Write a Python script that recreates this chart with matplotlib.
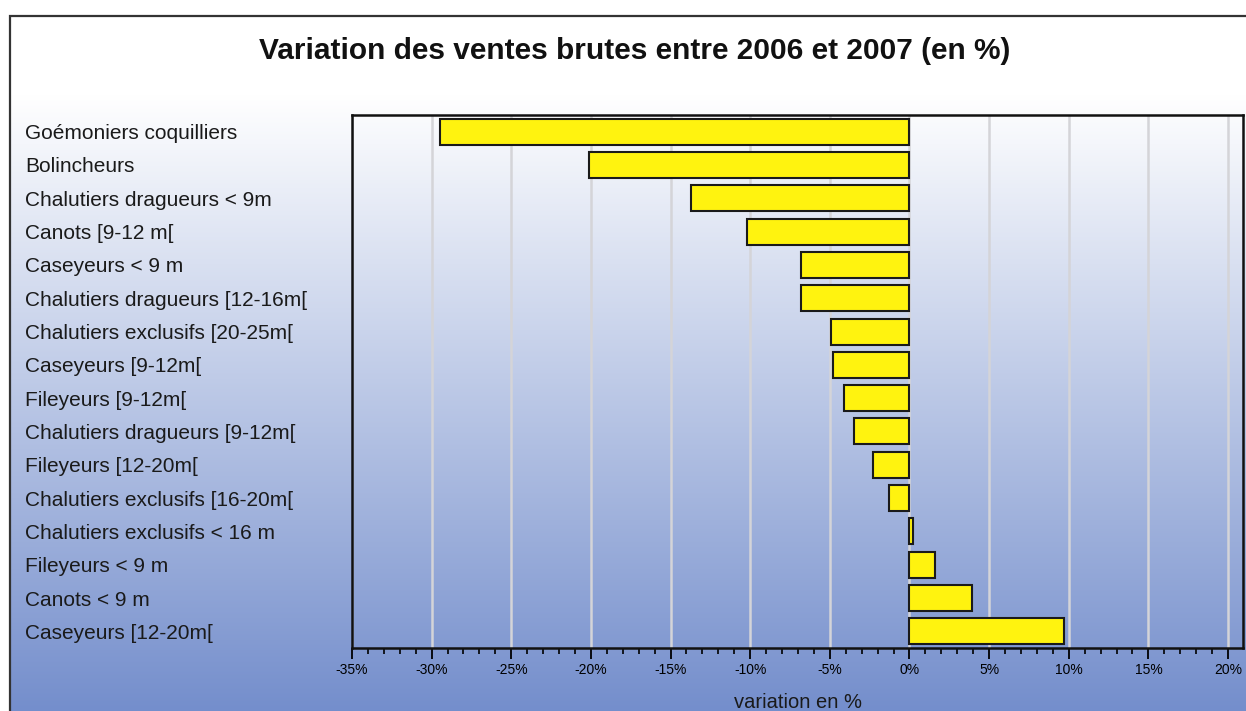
import numpy as np
import matplotlib.pyplot as plt
from matplotlib.patches import Rectangle
from matplotlib.ticker import MultipleLocator, FuncFormatter

plt.rcParams['font.family'] = ['Liberation Sans', 'DejaVu Sans']

# data, top to bottom as in the chart
categories = [
    'Goémoniers coquilliers', 'Bolincheurs', 'Chalutiers dragueurs < 9m',
    'Canots [9-12 m[', 'Caseyeurs < 9 m', 'Chalutiers dragueurs [12-16m[',
    'Chalutiers exclusifs [20-25m[', 'Caseyeurs [9-12m[', 'Fileyeurs [9-12m[',
    'Chalutiers dragueurs [9-12m[', 'Fileyeurs [12-20m[',
    'Chalutiers exclusifs [16-20m[', 'Chalutiers exclusifs < 16 m',
    'Fileyeurs < 9 m', 'Canots < 9 m', 'Caseyeurs [12-20m[',
]
variation = [-29.5, -20.1, -13.7, -10.2, -6.8, -6.8, -4.9, -4.8, -4.1,
             -3.5, -2.3, -1.3, 0.25, 1.6, 3.9, 9.7]

W, H = 1246, 711
fig = plt.figure(figsize=(W / 100, H / 100), dpi=100)
fig.patch.set_facecolor('white')

# background: white at the top of the frame, then a gradient down to blue
bg = fig.add_axes([0, 0, 1, 1], zorder=-10)
bg.axis('off')
top = np.array([255, 255, 255]) / 255
bottom = np.array([116, 142, 204]) / 255
t = np.clip((np.linspace(16, 711, 500) - 95) / (711 - 95), 0, 1)[:, None]
grad = top + (bottom - top) * t
grad = np.repeat(grad[:, None, :], 2, axis=1)
x0 = 10 / W
y_top = 1 - 16 / H
bg.imshow(grad, extent=[x0, 1.2, 0, y_top], aspect='auto', origin='upper')
bg.set_xlim(0, 1)
bg.set_ylim(0, 1)
bg.add_patch(Rectangle((x0, -0.1), 1.5, y_top + 0.1, facecolor='none',
                       edgecolor='#333333', linewidth=1.6))

ax = fig.add_axes([352 / W, 1 - 648 / H, (1243 - 352) / W, (648 - 115) / H])
ax.patch.set_alpha(0)

y = np.arange(len(categories))
ax.barh(y, variation, height=0.78, color='#fff30f', edgecolor='#1a1a1a',
        linewidth=1.5, zorder=3)

ax.set_ylim(len(categories) - 0.5, -0.5)
ax.set_xlim(-35, 20.94)
ax.xaxis.set_major_locator(MultipleLocator(5))
ax.xaxis.set_minor_locator(MultipleLocator(1))
ax.xaxis.set_major_formatter(FuncFormatter(lambda v, p: f'{v:.0f}%'))
ax.grid(axis='x', which='major', color='#d4d4d8', linewidth=1.8, zorder=0)
ax.set_axisbelow(True)

ax.tick_params(axis='x', which='major', length=8, width=1.3, direction='out',
               labelsize=10, pad=3)
ax.tick_params(axis='x', which='minor', length=4.5, width=1.2, direction='out')
ax.set_yticks(y)
ax.set_yticklabels(categories, fontsize=15, color='#1a1a1a')
ax.tick_params(axis='y', length=0, pad=(352 - 25) * 0.72)
for lab in ax.get_yticklabels():
    lab.set_horizontalalignment('left')

for s in ax.spines.values():
    s.set_linewidth(1.8)
    s.set_color('#111111')

ax.set_xlabel('variation en %', fontsize=14.5, color='#1a1a1a', labelpad=11)
fig.text(635 / W, 1 - 51 / H, 'Variation des ventes brutes entre 2006 et 2007 (en %)',
         ha='center', va='center', fontsize=21.5, fontweight='bold', color='#111111')

fig.savefig('out.png', dpi=100)
